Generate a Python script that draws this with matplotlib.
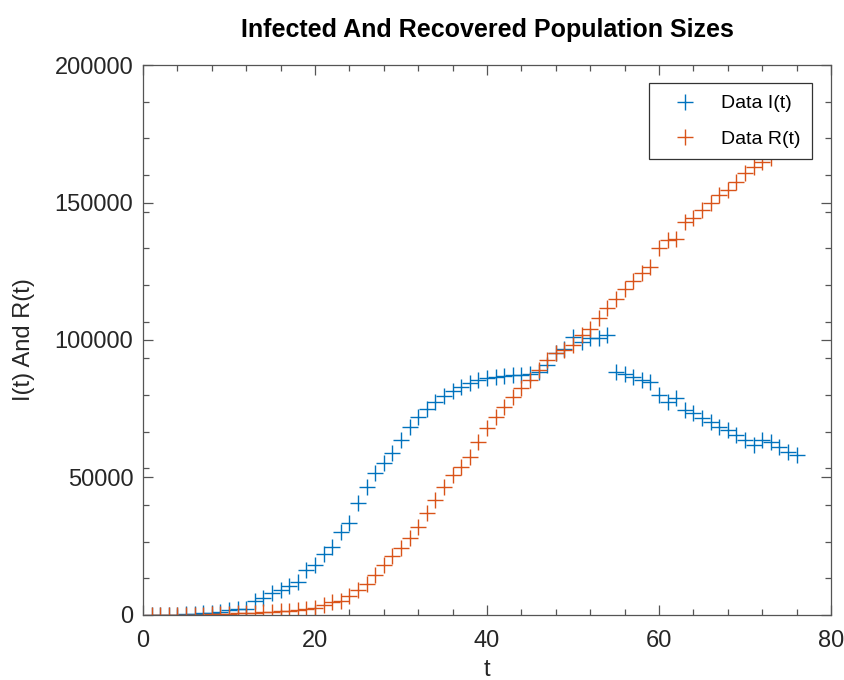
import numpy as np
import matplotlib
matplotlib.use("Agg")
import matplotlib.pyplot as plt
from matplotlib.ticker import MultipleLocator, FixedLocator

plt.rcParams['font.family'] = ['Liberation Sans', 'DejaVu Sans']

t = np.arange(1, 77)

infected = [0, 0, 100, 150, 200, 400, 600, 850, 1200, 1800,
            2200, 2300, 5200, 6100, 7900, 9100, 10700, 12100, 16400, 18200,
            22200, 24700, 30300, 33600, 40600, 46700, 51500, 55200, 58800, 63600,
            68500, 72100, 74800, 77400, 79500, 81400, 83000, 84200, 85500, 86100,
            86400, 86900, 87300, 87300, 87500, 88500, 90900, 95400, 96800, 101000,
            99400, 100600, 100700, 101800, 88500, 87600, 86400, 85500, 84800, 80000,
            77600, 78800, 74500, 73300, 71500, 70300, 68500, 67300, 65500, 63600,
            61800, 63600, 63000, 61200, 59400, 58200]

recovered = [0, 0, 0, 0, 0, 50, 100, 200, 300, 450,
             600, 700, 800, 1000, 1100, 1300, 1600, 1800, 2100, 2500,
             3600, 4600, 5000, 6900, 9100, 11300, 14500, 18200, 21500, 24200,
             27900, 32100, 37200, 41800, 46500, 50900, 53800, 57400, 63000, 67900,
             72100, 75700, 79400, 82400, 85500, 89100, 92700, 95200, 96400, 98200,
             101800, 104000, 107900, 111500, 114800, 118500, 121500, 124500, 126400, 133600,
             136500, 136800, 143000, 144200, 147300, 149700, 152700, 154500, 157500, 160600,
             163000, 164800, 166100, 169000, 171000, 173000]

labels = ['Data I(t)', 'Data R(t)']
colors = ['#0072BD', '#D95319']

fig = plt.figure(figsize=(8.45, 6.8), dpi=100)
ax = fig.add_axes([0.1692, 0.0956, 0.8142, 0.8088])

ax.plot(t, infected, '+', color=colors[0], markersize=11, mew=1.0, label=labels[0])
ax.plot(t, recovered, '+', color=colors[1], markersize=11, mew=1.0, label=labels[1])

ax.set_xlim(0, 80)
ax.set_ylim(0, 200000)
ax.xaxis.set_major_locator(MultipleLocator(20))
ax.xaxis.set_minor_locator(MultipleLocator(4))
ax.yaxis.set_major_locator(MultipleLocator(50000))
ax.yaxis.set_minor_locator(FixedLocator(np.linspace(0, 200000, 16)))

axcol = '#262626'
for s in ax.spines.values():
    s.set_color('#555555')
    s.set_linewidth(0.9)
ax.tick_params(which='both', direction='in', top=True, right=True,
               color='#555555', labelcolor=axcol, labelsize=17, width=0.9)
ax.tick_params(which='major', length=7)
ax.tick_params(axis='x', which='major', pad=11)
ax.tick_params(axis='y', which='major', pad=7)
ax.tick_params(which='minor', length=4)

ax.set_xlabel('t', fontsize=17, color=axcol, labelpad=5)
ax.set_ylabel('I(t) And R(t)', fontsize=17, color=axcol, labelpad=14)
ax.set_title('Infected And Recovered Population Sizes', fontsize=18,
             fontweight='bold', pad=20)

leg = ax.legend(loc='upper right', bbox_to_anchor=(0.972, 0.967), borderaxespad=0,
                fontsize=14, fancybox=False, framealpha=1, edgecolor='#333333',
                handlelength=2.5, handletextpad=0.6, borderpad=0.6, labelspacing=0.9)
leg.get_frame().set_linewidth(0.9)
leg.set_zorder(10)

plt.savefig('out.png', dpi=100)
